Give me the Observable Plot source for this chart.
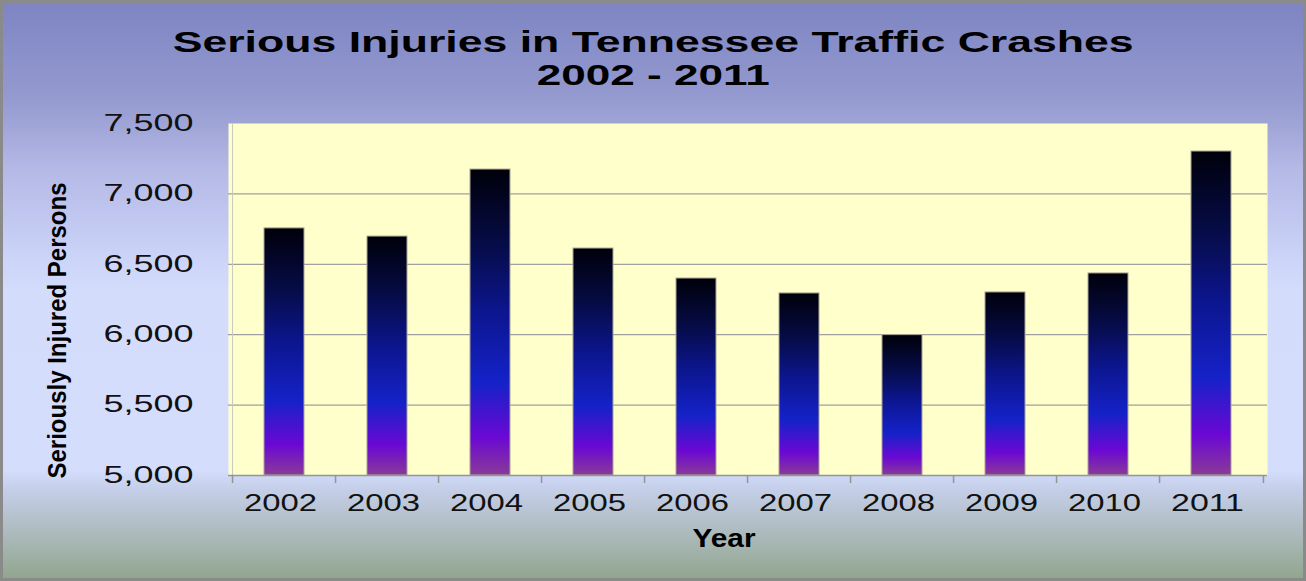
<!DOCTYPE html>
<html>
<head>
<meta charset="utf-8">
<script src="https://cdn.jsdelivr.net/npm/d3@7"></script>
<script src="https://cdn.jsdelivr.net/npm/@observablehq/plot@0.6"></script>
<style>
  html, body { margin: 0; padding: 0; }
  #chart {
    position: relative;
    width: 1306px; height: 581px; overflow: hidden;
    background: linear-gradient(to bottom, #7d84c1 0px, #959ad0 100px, #b4b9e6 170px, #ccd4f8 260px, #d4dcfc 290px, #d4ddfc 470px, #c4cee8 490px, #aebcc0 530px, #90a48c 581px);
    box-shadow: inset 0 0 0 3px #8a8a8a;
    font-family: "Liberation Sans", Arial, sans-serif;
  }
  #title { position: relative; height: 95px; }
  .tline { position: absolute; left: 0; width: 1306px; text-align: center; font-size: 30px; line-height: 30px; font-weight: bold; color: #000; }
  .tline span { display: inline-block; transform-origin: center; }
  #plot svg { display: block; }
</style>
</head>
<body>
<div id="chart">
  <div id="title">
    <div class="tline" style="top:27px"><span data-w="961">Serious Injuries in Tennessee Traffic Crashes</span></div>
    <div class="tline" style="top:60px"><span data-w="233">2002 - 2011</span></div>
  </div>
  <div id="plot"></div>
</div>
<script>
const years = ["2002", "2003", "2004", "2005", "2006", "2007", "2008", "2009", "2010", "2011"];
const injuries = [6755, 6697, 7173, 6612, 6399, 6293, 5997, 6300, 6435, 7301];
const yTicks = [5000, 5500, 6000, 6500, 7000, 7500];
const gridTicks = [5500, 6000, 6500, 7000];
const xLabel = "Year";
const yLabel = "Seriously Injured Persons";

const data = years.map((year, i) => ({year, value: injuries[i]}));

const W = 1306, H = 486;
const mL = 228, mR = 39, mT = 28, mB = 106;
const step = (W - mL - mR) / years.length;
const tickBelow = 8 * 2500 / (H - mT - mB); // 8px in data units
const XW = 73, YW = 90, XLW = 63, YLW = 296; // stretched text widths

const svg = Plot.plot({
  width: W, height: H,
  marginLeft: mL, marginRight: mR, marginTop: mT, marginBottom: mB,
  style: {background: "transparent", fontFamily: "'Liberation Sans', Arial, sans-serif", overflow: "visible", color: "#111"},
  x: {domain: years, paddingInner: 0.61, paddingOuter: 0.305, label: null},
  y: {domain: [5000, 7500], label: null},
  marks: [
    Plot.frame({fill: "#ffffcc", stroke: "none"}),
    Plot.gridY(gridTicks, {stroke: "#a0a0a0", strokeOpacity: 1, strokeWidth: 1.3}),
    Plot.ruleX([years[0]], {dx: -step / 2, y1: 7500, y2: 5000, stroke: "#c8c8c0", strokeWidth: 1}),
    Plot.barY(data, {x: "year", y1: 5000, y2: "value", fill: "url(#barGrad)", stroke: "#a8a496", strokeWidth: 1}),
    Plot.ruleY([5000], {stroke: "#959595", strokeWidth: 1.5}),
    Plot.ruleX(years, {dx: -step / 2, y1: 5000, y2: 5000 - tickBelow, stroke: "#959595", strokeWidth: 1.5}),
    Plot.ruleX([years[years.length - 1]], {dx: step / 2, y1: 5000, y2: 5000 - tickBelow, stroke: "#959595", strokeWidth: 1.5}),
    Plot.axisY({ticks: yTicks, tickFormat: d3.format(","), tickSize: 0, tickPadding: 35, fontSize: 23, label: null}),
    Plot.axisX({tickSize: 0, tickPadding: 19, fontSize: 23, label: null, textAnchor: "start", dx: -XW / 2 - 4}),
    Plot.text([xLabel], {frameAnchor: "bottom", textAnchor: "start", dx: 692 - (mL + (W - mL - mR) / 2), dy: 451 - (H - mB), lineAnchor: "bottom", fontSize: 26, fontWeight: "bold", fill: "#000"}),
    Plot.text([yLabel], {frameAnchor: "left", rotate: -90, textAnchor: "start", dx: 57 - mL, dy: (478 - 95) - (mT + (H - mT - mB) / 2), fontSize: 26, fontWeight: "bold", fill: "#000"})
  ]
});

// gradient for the bars
const defs = d3.select(svg).insert("defs", ":first-child");
const grad = defs.append("linearGradient").attr("id", "barGrad")
  .attr("x1", 0).attr("y1", 0).attr("x2", 0).attr("y2", 1);
[[0, "#00000a"], [0.25, "#060c48"], [0.47, "#0c1690"], [0.7, "#1522c8"], [0.875, "#6a08d4"], [1, "#8a3a98"]]
  .forEach(([o, c]) => grad.append("stop").attr("offset", o).attr("stop-color", c));

document.getElementById("plot").appendChild(svg);

// horizontal stretch like the reference
function stretch(t, w) {
  t.setAttribute("textLength", w);
  t.setAttribute("lengthAdjust", "spacingAndGlyphs");
}
svg.querySelectorAll('[aria-label="y-axis tick label"] text').forEach(t => stretch(t, YW));
svg.querySelectorAll('[aria-label="x-axis tick label"] text').forEach(t => stretch(t, XW));
svg.querySelectorAll('[aria-label="text"] text').forEach(t => {
  if (t.textContent === xLabel) stretch(t, XLW);
  if (t.textContent === yLabel) stretch(t, YLW);
});

document.querySelectorAll(".tline span").forEach(s => {
  const w = s.getBoundingClientRect().width;
  s.style.transform = `scaleX(${(+s.dataset.w) / w})`;
});
</script>
</body>
</html>
